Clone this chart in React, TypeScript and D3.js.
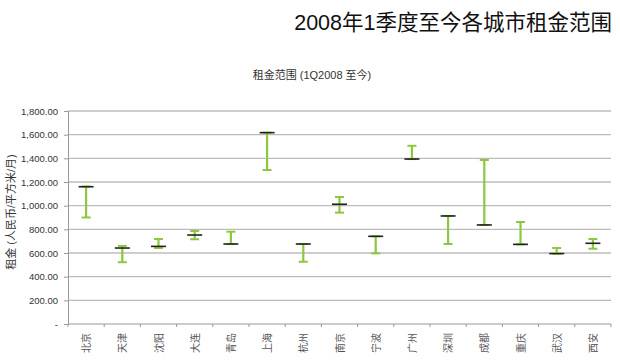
import React, { useEffect, useRef } from 'react';
import * as d3 from 'd3';

const cities = ['北京', '天津', '沈阳', '大连', '青岛', '上海', '杭州', '南京', '宁波', '广州', '深圳', '成都', '重庆', '武汉', '西安'];
const lows = [900, 522, 642, 716, 676, 1301, 526, 941, 597, 1394, 676, 837, 673, 594, 636];
const highs = [1162, 660, 718, 786, 780, 1617, 676, 1073, 741, 1506, 913, 1386, 862, 642, 718];
const current = [1160, 642, 656, 752, 676, 1617, 676, 1012, 741, 1394, 913, 837, 673, 595, 682];
const yTicks = [0, 200, 400, 600, 800, 1000, 1200, 1400, 1600, 1800];

const FONT = '"Liberation Sans", "Noto Sans CJK SC", sans-serif';

export default function App() {
  const svgRef = useRef<SVGSVGElement>(null);

  useEffect(() => {
    const svg = d3.select(svgRef.current);
    svg.selectAll('*').remove();

    const left = 68, right = 611, top = 111, bottom = 324;

    const x = d3.scaleBand().domain(cities).range([left, right]);
    const y = d3.scaleLinear().domain([0, 1800]).range([bottom, top]);

    // title
    svg.append('text')
      .attr('x', 612).attr('y', 30)
      .attr('text-anchor', 'end')
      .attr('font-family', FONT)
      .attr('font-size', 21.5)
      .attr('fill', '#111')
      .text('2008年1季度至今各城市租金范围');

    svg.append('text')
      .attr('x', 312).attr('y', 79)
      .attr('text-anchor', 'middle')
      .attr('font-family', FONT)
      .attr('font-size', 11)
      .attr('fill', '#333')
      .text('租金范围 (1Q2008 至今)');

    // grid
    svg.append('g')
      .selectAll('line')
      .data(yTicks.filter(d => d > 0))
      .enter().append('line')
      .attr('x1', left).attr('x2', right)
      .attr('y1', d => y(d)).attr('y2', d => y(d))
      .attr('stroke', '#bcbcbc')
      .attr('stroke-width', 1.3);

    // y axis
    const yAxis = svg.append('g')
      .attr('transform', `translate(${left},0)`)
      .call(d3.axisLeft(y).tickValues(yTicks).tickSize(4).tickPadding(6)
        .tickFormat(d => (+d === 0 ? '-' : d3.format(',.2f')(+d))));
    yAxis.select('.domain').attr('stroke', '#999');
    yAxis.selectAll('.tick line').attr('stroke', '#999');
    yAxis.selectAll('text')
      .attr('font-family', FONT)
      .attr('font-size', 9.5)
      .attr('fill', '#333');

    svg.append('text')
      .attr('transform', `translate(15,212) rotate(-90)`)
      .attr('text-anchor', 'middle')
      .attr('font-family', FONT)
      .attr('font-size', 11)
      .attr('fill', '#333')
      .text('租金 (人民币/平方米/月)');

    // x axis
    svg.append('line')
      .attr('x1', left).attr('x2', right)
      .attr('y1', bottom).attr('y2', bottom)
      .attr('stroke', '#999');
    const bounds = [...cities.map(c => x(c) as number), right];
    svg.append('g').selectAll('line')
      .data(bounds)
      .enter().append('line')
      .attr('x1', d => d).attr('x2', d => d)
      .attr('y1', bottom).attr('y2', bottom + 3)
      .attr('stroke', '#999');

    svg.append('g').selectAll('text')
      .data(cities)
      .enter().append('text')
      .attr('transform', d => `translate(${(x(d) as number) + x.bandwidth() / 2 + 4},333) rotate(-90)`)
      .attr('text-anchor', 'end')
      .attr('font-family', FONT)
      .attr('font-size', 10)
      .attr('fill', '#555')
      .text(d => d);

    // error bars
    const green = '#8dc63f';
    const g = svg.append('g');
    cities.forEach((c, i) => {
      const cx = (x(c) as number) + x.bandwidth() / 2;
      g.append('line')
        .attr('x1', cx).attr('x2', cx)
        .attr('y1', y(lows[i])).attr('y2', y(highs[i]))
        .attr('stroke', green).attr('stroke-width', 2.2);
      [lows[i], highs[i]].forEach(v => {
        g.append('line')
          .attr('x1', cx - 4.5).attr('x2', cx + 4.5)
          .attr('y1', y(v)).attr('y2', y(v))
          .attr('stroke', green).attr('stroke-width', 2);
      });
      g.append('line')
        .attr('x1', cx - 7.5).attr('x2', cx + 7.5)
        .attr('y1', y(current[i])).attr('y2', y(current[i]))
        .attr('stroke', '#222').attr('stroke-width', 1.6);
    });
  }, []);

  return (
    <svg ref={svgRef} width={620} height={364}
      style={{ position: 'absolute', left: 0, top: 0, background: '#fff' }} />
  );
}
